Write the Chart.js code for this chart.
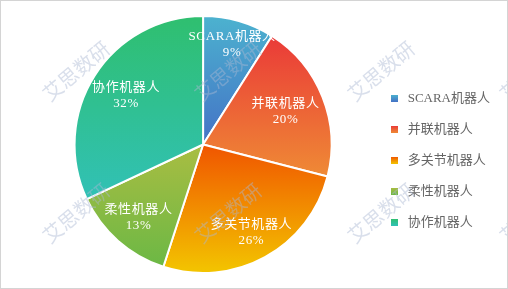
<!DOCTYPE html>
<html>
<head>
<meta charset="utf-8">
<script src="https://cdn.jsdelivr.net/npm/chart.js@4.4.0/dist/chart.umd.min.js"></script>
<style>
  html, body { margin: 0; padding: 0; background: #fff; }
  #wrap { width: 508px; height: 289px; box-sizing: border-box; border: 1px solid #d4d4d4; }
  #chart { display: block; }
</style>
</head>
<body>
<div id="wrap"><canvas id="chart" width="506" height="287"></canvas></div>
<script>
// 数据
const categories = ['SCARA机器人', '并联机器人', '多关节机器人', '柔性机器人', '协作机器人'];
const shares = [9, 20, 26, 13, 32];
// 每个扇区的渐变色（上 -> 下）
const topColors = ['#4cb2cf', '#ea3a38', '#f05500', '#a9bd42', '#2fbf6f'];
const bottomColors = ['#4472c6', '#ef8a35', '#f3c500', '#6cb845', '#31c1b6'];
// 标签离圆心的距离（占半径的比例）
const labelRadius = [0.81, 0.69, 0.78, 0.76, 0.71];
const watermarkText = '艾思数研';

const FONT = "'Liberation Serif', 'Noto Sans CJK SC', serif";

// 扇区的竖直范围
function arcYRange(el) {
    const { x, y, startAngle, endAngle, outerRadius } = el.getProps(['x', 'y', 'startAngle', 'endAngle', 'outerRadius'], true);
    const ys = [y, y + outerRadius * Math.sin(startAngle), y + outerRadius * Math.sin(endAngle)];
    [-Math.PI / 2, Math.PI / 2, Math.PI * 1.5].forEach(a => {
        if (a > startAngle && a < endAngle) ys.push(y + outerRadius * Math.sin(a));
    });
    return [Math.min(...ys), Math.max(...ys)];
}

// 图例的小方块（渐变）
function makeBox(i) {
    const c = document.createElement('canvas');
    c.width = 7; c.height = 7;
    const g = c.getContext('2d');
    const grad = g.createLinearGradient(0, 0, 0, 7);
    grad.addColorStop(0, topColors[i]);
    grad.addColorStop(1, bottomColors[i]);
    g.fillStyle = grad;
    g.fillRect(0, 0, 7, 7);
    return c;
}

const gradientPlugin = {
    id: 'sliceGradient',
    beforeDatasetsDraw(chart) {
        const ctx = chart.ctx;
        chart.getDatasetMeta(0).data.forEach((el, i) => {
            const [y0, y1] = arcYRange(el);
            const grad = ctx.createLinearGradient(0, y0, 0, y1);
            grad.addColorStop(0, topColors[i]);
            grad.addColorStop(1, bottomColors[i]);
            el.options.backgroundColor = grad;
        });
    },
    afterDatasetsDraw(chart) {
        const ctx = chart.ctx;
        const total = shares.reduce((a, b) => a + b, 0);
        ctx.save();
        ctx.fillStyle = '#ffffff';
        ctx.textAlign = 'center';
        ctx.textBaseline = 'middle';
        ctx.font = '13px ' + FONT;
        ctx.letterSpacing = '0.6px';
        chart.getDatasetMeta(0).data.forEach((el, i) => {
            const { x, y, startAngle, endAngle, outerRadius } = el.getProps(['x', 'y', 'startAngle', 'endAngle', 'outerRadius'], true);
            const mid = (startAngle + endAngle) / 2;
            const r = outerRadius * labelRadius[i];
            const lx = x + r * Math.cos(mid);
            const ly = y + r * Math.sin(mid);
            ctx.fillText(categories[i], lx, ly - 8);
            ctx.fillText(Math.round(shares[i] / total * 100) + '%', lx, ly + 8);
        });
        ctx.restore();
    },
    afterDraw(chart) {
        // 水印
        const ctx = chart.ctx;
        ctx.save();
        ctx.font = "20px 'Noto Sans CJK SC', sans-serif";
        ctx.fillStyle = 'rgba(170, 185, 210, 0.45)';
        ctx.textAlign = 'center';
        ctx.textBaseline = 'middle';
        const xs = [75, 227, 380, 532];
        const ys = [70, 212];
        ys.forEach(wy => xs.forEach(wx => {
            ctx.save();
            ctx.translate(wx, wy);
            ctx.rotate(-40 * Math.PI / 180);
            ctx.fillText(watermarkText, 0, 0);
            ctx.restore();
        }));
        ctx.restore();
    }
};

new Chart(document.getElementById('chart'), {
    type: 'pie',
    data: {
        labels: categories,
        datasets: [{
            data: shares,
            backgroundColor: bottomColors,
            borderColor: '#ffffff',
            borderWidth: 2
        }]
    },
    options: {
        responsive: false,
        animation: false,
        layout: { padding: { left: 35, right: 7, top: 14, bottom: 14 } },
        plugins: {
            tooltip: { enabled: false },
            legend: {
                position: 'right',
                title: { display: true, text: ' ', padding: { top: 4, bottom: 12 }, font: { size: 13 } },
                labels: {
                    usePointStyle: true,
                    color: '#595959',
                    font: { size: 13, family: FONT },
                    padding: 18,
                    generateLabels: () => categories.map((c, i) => ({
                        text: c,
                        pointStyle: makeBox(i),
                        fillStyle: bottomColors[i],
                        strokeStyle: 'transparent',
                        lineWidth: 0,
                        index: i
                    }))
                }
            }
        }
    },
    plugins: [gradientPlugin]
});
</script>
</body>
</html>
